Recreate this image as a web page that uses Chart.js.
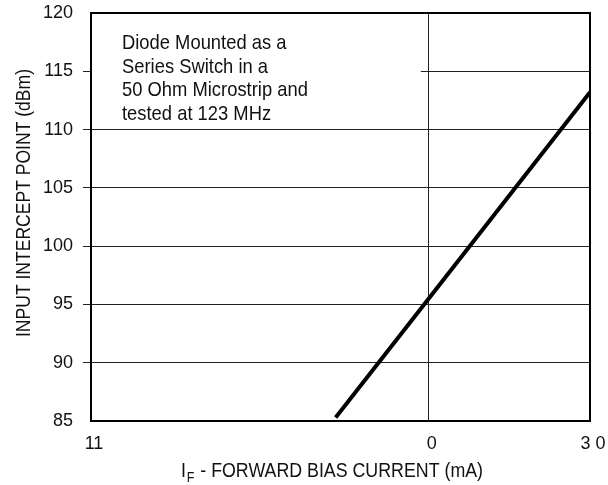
<!DOCTYPE html>
<html>
<head>
<meta charset="utf-8">
<script src="https://cdn.jsdelivr.net/npm/chart.js@4/dist/chart.umd.min.js"></script>
<style>
  html, body { margin: 0; padding: 0; background: #fff; }
  #wrap { width: 608px; height: 485px; }
</style>
</head>
<body>
<div id="wrap"><canvas id="ip_chart"></canvas></div>
<script>
// values
const biasCurrent = [5.3, 10, 30];          // mA (log axis)
const interceptPoint = [85.3, 95.5, 113.2]; // dBm
const xTickValues = [1, 10, 30];
const xTickLabels = ['11', '0', '3 0'];
const yTickValues = [85, 90, 95, 100, 105, 110, 115, 120];
const noteLines = ['Diode Mounted as a', 'Series Switch in a', '50 Ohm Microstrip and', 'tested at 123 MHz'];
const yTitle = 'INPUT INTERCEPT POINT (dBm)';
const xTitleMain = 'I';
const xTitleSub = 'F';
const xTitleRest = ' - FORWARD BIAS CURRENT (mA)';

const FONT = '"Liberation Sans", Arial, sans-serif';

const points = biasCurrent.map((x, i) => ({ x: x, y: interceptPoint[i] }));

// narrow-ish text: squeeze horizontally
function squeezed(ctx, text, x, y, font, sx) {
	ctx.save();
	ctx.font = font;
	ctx.translate(x, y);
	ctx.scale(sx, 1);
	ctx.fillText(text, 0, 0);
	ctx.restore();
}

const extras = {
	id: 'extras',
	beforeDatasetsDraw(chart) {
		const ctx = chart.ctx;
		const a = chart.chartArea;
		const xs = chart.scales.x, ys = chart.scales.y;
		// blank box behind the note (hides the 115 grid line there)
		ctx.save();
		ctx.fillStyle = '#fff';
		const right = xs.getPixelForValue(10) - 8;
		const bottom = ys.getPixelForValue(110) - 4;
		ctx.fillRect(a.left + 1, a.top + 1, right - a.left - 1, bottom - a.top - 1);
		ctx.fillStyle = '#111';
		ctx.textBaseline = 'alphabetic';
		ctx.textAlign = 'left';
		noteLines.forEach((t, i) => {
			squeezed(ctx, t, a.left + 31, a.top + 36 + i * 23.5, '21px ' + FONT, 0.875);
		});
		ctx.restore();
	},
	afterDatasetsDraw(chart) {
		const ctx = chart.ctx;
		const a = chart.chartArea;
		ctx.save();
		ctx.strokeStyle = '#000';
		ctx.lineWidth = 2;
		ctx.strokeRect(a.left, a.top, a.right - a.left, a.bottom - a.top);
		ctx.restore();
	},
	afterDraw(chart) {
		const ctx = chart.ctx;
		// y title, fitted to the reference length
		ctx.save();
		ctx.fillStyle = '#111';
		ctx.font = '21px ' + FONT;
		ctx.textAlign = 'center';
		ctx.textBaseline = 'alphabetic';
		const yw = ctx.measureText(yTitle).width;
		ctx.translate(30, 203);
		ctx.rotate(-Math.PI / 2);
		ctx.scale(268 / yw, 1);
		ctx.fillText(yTitle, 0, 0);
		ctx.restore();

		// x title with subscript
		ctx.save();
		ctx.fillStyle = '#111';
		ctx.textBaseline = 'alphabetic';
		ctx.textAlign = 'left';
		const big = '20px ' + FONT, small = '14px ' + FONT;
		ctx.font = big;
		const w1 = ctx.measureText(xTitleMain).width;
		const w3 = ctx.measureText(xTitleRest).width;
		ctx.font = small;
		const w2 = ctx.measureText(xTitleSub).width + 2;
		const total = w1 + w2 + w3;
		const sx = 302 / total;
		ctx.translate(181, 477);
		ctx.scale(sx, 1);
		ctx.font = big;
		ctx.fillText(xTitleMain, 0, 0);
		ctx.font = small;
		ctx.fillText(xTitleSub, w1 + 1, 5);
		ctx.font = big;
		ctx.fillText(xTitleRest, w1 + w2, 0);
		ctx.restore();
	}
};

const config = {
	type: 'line',
	data: {
		datasets: [{
			label: 'IP',
			data: points,
			borderColor: '#000',
			borderWidth: 4,
			borderCapStyle: 'butt',
			pointRadius: 0,
			fill: false,
			tension: 0
		}]
	},
	options: {
		responsive: true,
		maintainAspectRatio: false,
		animation: false,
		layout: { autoPadding: false, padding: { top: 13, right: 18, left: 0, bottom: 0 } },
		plugins: {
			legend: { display: false },
			tooltip: { enabled: false }
		},
		scales: {
			x: {
				type: 'logarithmic',
				min: 1,
				max: 30,
				afterBuildTicks: function(axis) {
					axis.ticks = xTickValues.map(v => ({ value: v }));
				},
				afterFit: function(scale) {
					scale.height = 64;
					// labels may hang over the edges, don't shrink the plot for them
					scale.paddingLeft = 0;
					scale.paddingRight = 0;
				},
				ticks: {
					autoSkip: false,
					maxRotation: 0,
					padding: 12,
					labelOffset: 3,
					color: '#111',
					font: { family: FONT, size: 18 },
					callback: function(value, index) {
						return xTickLabels[index];
					}
				},
				grid: {
					drawTicks: false,
					color: function(c) {
						return c.tick && c.tick.value === 10 ? '#222' : 'rgba(0,0,0,0)';
					},
					lineWidth: 1
				},
				border: { display: false }
			},
			y: {
				min: 85,
				max: 120,
				afterBuildTicks: function(axis) {
					axis.ticks = yTickValues.map(v => ({ value: v }));
				},
				afterFit: function(scale) {
					scale.width = 91;
					scale.paddingTop = 0;
					scale.paddingBottom = 0;
				},
				ticks: {
					padding: 10,
					color: '#111',
					font: { family: FONT, size: 18 }
				},
				grid: {
					drawTicks: true,
					tickLength: 8,
					color: function(c) {
						const v = c.tick && c.tick.value;
						return (v === 85 || v === 120) ? 'rgba(0,0,0,0)' : '#222';
					},
					lineWidth: 1
				},
				border: { display: false }
			}
		}
	},
	plugins: [extras]
};

const cv = document.getElementById('ip_chart');
const chart = new Chart(cv.getContext('2d'), config);
</script>
</body>
</html>
